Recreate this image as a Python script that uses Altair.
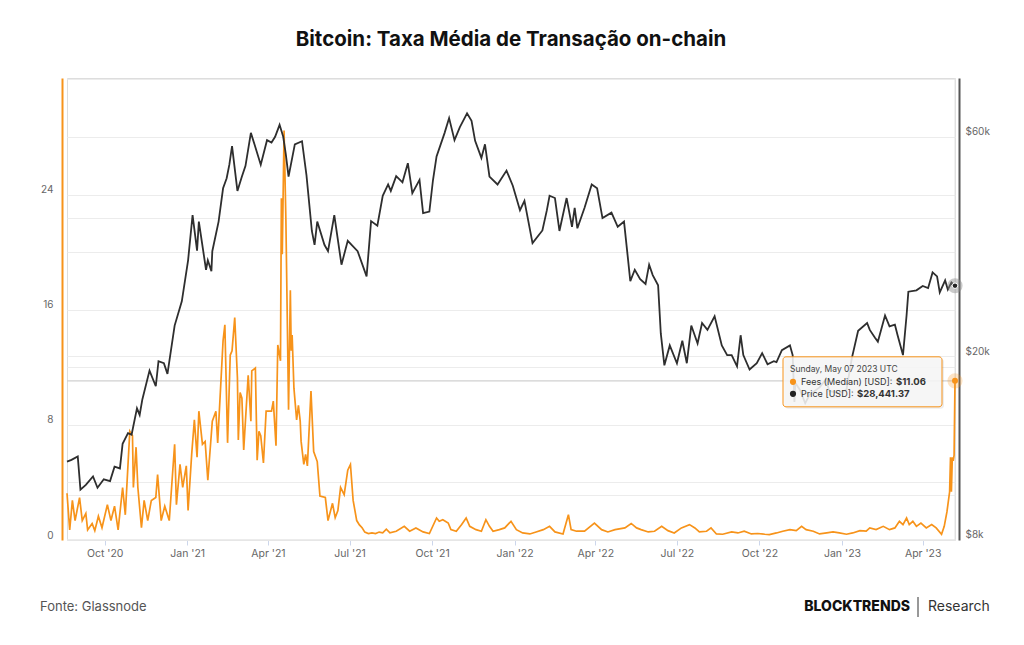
import altair as alt
import pandas as pd

# ---------------- data ----------------
# Bitcoin price (USD), (date, value)
price_2020 = [
    ("2020-08-20", 11800), ("2020-08-25", 11900), ("2020-09-01", 12100), ("2020-09-04", 10250),
    ("2020-09-10", 10500), ("2020-09-18", 10950), ("2020-09-23", 10350), ("2020-09-30", 10800),
    ("2020-10-07", 10700), ("2020-10-12", 11500), ("2020-10-18", 11400), ("2020-10-21", 12900),
    ("2020-10-27", 13600), ("2020-10-31", 13500), ("2020-11-06", 15400), ("2020-11-09", 14900),
    ("2020-11-12", 16100), ("2020-11-20", 18600), ("2020-11-27", 17200), ("2020-11-30", 19500),
    ("2020-12-06", 19300), ("2020-12-10", 18300), ("2020-12-18", 23300), ("2020-12-26", 26300),
]
price_2021 = [
    ("2021-01-02", 32300), ("2021-01-07", 40500), ("2021-01-12", 33900), ("2021-01-14", 39200),
    ("2021-01-22", 30800), ("2021-01-24", 32300), ("2021-01-28", 30600), ("2021-01-29", 33800),
    ("2021-02-05", 39200), ("2021-02-10", 46300), ("2021-02-14", 48700), ("2021-02-17", 52100),
    ("2021-02-20", 57200), ("2021-02-26", 45700), ("2021-03-03", 49100), ("2021-03-07", 51800),
    ("2021-03-13", 61100), ("2021-03-17", 57700), ("2021-03-24", 52100), ("2021-03-31", 58900),
    ("2021-04-05", 58200), ("2021-04-09", 59900), ("2021-04-14", 63600), ("2021-04-18", 60000),
    ("2021-04-21", 54800), ("2021-04-24", 49100), ("2021-05-01", 57700), ("2021-05-09", 58600),
    ("2021-05-14", 49400), ("2021-05-20", 37400), ("2021-05-23", 34900), ("2021-05-26", 39200),
    ("2021-06-03", 34900), ("2021-06-07", 33800), ("2021-06-14", 40500), ("2021-06-22", 31600),
    ("2021-06-29", 35600), ("2021-07-10", 33800), ("2021-07-20", 29800), ("2021-07-25", 39300),
    ("2021-08-01", 38400), ("2021-08-07", 44600), ("2021-08-13", 47200), ("2021-08-16", 45700),
    ("2021-08-22", 49200), ("2021-08-29", 47700), ("2021-09-04", 52500), ("2021-09-09", 45200),
    ("2021-09-17", 48300), ("2021-09-21", 40900), ("2021-09-28", 41200), ("2021-10-02", 48200),
    ("2021-10-06", 54300), ("2021-10-15", 61100), ("2021-10-20", 65800), ("2021-10-26", 58900),
    ("2021-11-01", 62900), ("2021-11-09", 67400), ("2021-11-14", 64900), ("2021-11-18", 58700),
    ("2021-11-25", 53900), ("2021-11-29", 57700), ("2021-12-04", 49100), ("2021-12-13", 47200),
    ("2021-12-23", 50600), ("2021-12-30", 46900),
]
price_2022 = [
    ("2022-01-07", 41500), ("2022-01-12", 43500), ("2022-01-21", 35200), ("2022-02-01", 37500),
    ("2022-02-06", 41500), ("2022-02-09", 44600), ("2022-02-15", 44100), ("2022-02-20", 37400),
    ("2022-02-28", 44100), ("2022-03-06", 38200), ("2022-03-09", 42000), ("2022-03-12", 37900),
    ("2022-03-20", 42000), ("2022-03-28", 47200), ("2022-04-03", 46300), ("2022-04-09", 39900),
    ("2022-04-19", 41000), ("2022-04-26", 38200), ("2022-05-03", 39200), ("2022-05-07", 33100),
    ("2022-05-10", 29100), ("2022-05-15", 30800), ("2022-05-21", 29400), ("2022-05-27", 28700),
    ("2022-05-31", 31600), ("2022-06-04", 30000), ("2022-06-10", 28500), ("2022-06-13", 22400),
    ("2022-06-17", 19100), ("2022-06-23", 21100), ("2022-07-01", 19300), ("2022-07-07", 21600),
    ("2022-07-12", 19300), ("2022-07-17", 23300), ("2022-07-24", 21300), ("2022-07-29", 23600),
    ("2022-08-04", 22800), ("2022-08-12", 24400), ("2022-08-20", 21100), ("2022-08-26", 20100),
    ("2022-08-31", 20100), ("2022-09-06", 19000), ("2022-09-10", 22200), ("2022-09-13", 20100),
    ("2022-09-20", 18700), ("2022-09-28", 19300), ("2022-10-04", 20300), ("2022-10-10", 19200),
    ("2022-10-17", 19500), ("2022-10-20", 19400), ("2022-10-26", 20600), ("2022-11-04", 21100),
    ("2022-11-07", 20100), ("2022-11-09", 15900), ("2022-11-10", 17500), ("2022-11-15", 16900),
    ("2022-11-21", 15800), ("2022-11-26", 16500), ("2022-12-07", 17100), ("2022-12-14", 17800),
    ("2022-12-18", 16800), ("2022-12-29", 16600),
]
price_2023 = [
    ("2023-01-06", 16900), ("2023-01-12", 19800), ("2023-01-19", 22700), ("2023-01-29", 23600),
    ("2023-02-01", 22800), ("2023-02-07", 21900), ("2023-02-10", 21500), ("2023-02-18", 24500),
    ("2023-02-23", 23200), ("2023-03-01", 23400), ("2023-03-04", 22200), ("2023-03-10", 20100),
    ("2023-03-14", 24500), ("2023-03-16", 27600), ("2023-03-25", 27800), ("2023-04-01", 28400),
    ("2023-04-07", 28100), ("2023-04-12", 30400), ("2023-04-17", 29800), ("2023-04-20", 27500),
    ("2023-04-26", 29200), ("2023-04-29", 27900), ("2023-05-03", 28900), ("2023-05-07", 28441.37),
]

# Median transaction fee (USD), (date, value)
fees_2020 = [
    ("2020-08-20", 3.25), ("2020-08-23", 0.7), ("2020-08-26", 2.75), ("2020-08-29", 1.35),
    ("2020-09-03", 2.95), ("2020-09-06", 1.35), ("2020-09-10", 1.85), ("2020-09-12", 0.7),
    ("2020-09-17", 1.15), ("2020-09-20", 0.65), ("2020-09-24", 1.65), ("2020-09-28", 0.85),
    ("2020-10-04", 2.45), ("2020-10-08", 1.35), ("2020-10-12", 2.35), ("2020-10-16", 0.7),
    ("2020-10-21", 3.65), ("2020-10-24", 1.75), ("2020-10-29", 7.55), ("2020-11-01", 7.25),
    ("2020-11-02", 3.65), ("2020-11-05", 6.45), ("2020-11-07", 3.65), ("2020-11-11", 0.85),
    ("2020-11-14", 2.75), ("2020-11-18", 1.35), ("2020-11-22", 2.75), ("2020-11-27", 2.95),
    ("2020-11-29", 4.55), ("2020-12-03", 1.35), ("2020-12-07", 2.35), ("2020-12-12", 1.35),
    ("2020-12-18", 6.65), ("2020-12-20", 2.45), ("2020-12-24", 5.25), ("2020-12-27", 3.65),
    ("2020-12-31", 5.15),
]
fees_2021 = [
    ("2021-01-02", 2.05), ("2021-01-06", 5.95), ("2021-01-09", 8.35), ("2021-01-12", 5.75),
    ("2021-01-14", 8.95), ("2021-01-18", 6.65), ("2021-01-21", 6.85), ("2021-01-24", 4.15),
    ("2021-01-29", 8.25), ("2021-02-02", 8.95), ("2021-02-04", 6.75), ("2021-02-10", 13.85),
    ("2021-02-12", 14.95), ("2021-02-15", 6.75), ("2021-02-18", 12.85), ("2021-02-20", 13.15),
    ("2021-02-23", 15.45), ("2021-02-26", 11.25), ("2021-02-27", 6.95), ("2021-03-01", 10.25),
    ("2021-03-03", 9.85), ("2021-03-05", 6.25), ("2021-03-10", 11.45), ("2021-03-13", 8.25),
    ("2021-03-14", 11.75), ("2021-03-18", 11.95), ("2021-03-20", 5.55), ("2021-03-22", 7.55),
    ("2021-03-24", 7.25), ("2021-03-27", 5.35), ("2021-03-30", 8.95), ("2021-04-05", 8.95),
    ("2021-04-07", 9.65), ("2021-04-10", 6.55), ("2021-04-12", 13.55), ("2021-04-15", 12.45),
    ("2021-04-16", 23.75), ("2021-04-17", 19.85), ("2021-04-19", 28.45), ("2021-04-21", 22.35),
    ("2021-04-24", 9.05), ("2021-04-26", 17.35), ("2021-04-27", 13.15), ("2021-04-28", 14.25),
    ("2021-04-30", 10.55), ("2021-05-03", 8.35), ("2021-05-05", 9.35), ("2021-05-07", 8.25),
    ("2021-05-08", 6.85), ("2021-05-11", 5.25), ("2021-05-13", 5.95), ("2021-05-15", 5.15),
    ("2021-05-19", 10.35), ("2021-05-22", 6.15), ("2021-05-26", 5.45), ("2021-05-29", 3.05),
    ("2021-06-04", 2.95), ("2021-06-07", 1.35), ("2021-06-12", 2.55), ("2021-06-15", 1.55),
    ("2021-06-18", 2.05), ("2021-06-21", 3.65), ("2021-06-25", 3.15), ("2021-06-29", 4.85),
    ("2021-07-02", 5.25), ("2021-07-05", 2.75), ("2021-07-09", 1.35), ("2021-07-12", 1.05),
    ("2021-07-15", 0.85), ("2021-07-18", 0.55), ("2021-07-22", 0.45), ("2021-07-26", 0.5),
    ("2021-07-30", 0.45), ("2021-08-03", 0.55), ("2021-08-07", 0.5), ("2021-08-11", 0.75),
    ("2021-08-15", 0.5), ("2021-08-22", 0.61), ("2021-08-31", 0.95), ("2021-09-06", 0.61),
    ("2021-09-13", 0.84), ("2021-09-21", 0.56), ("2021-09-28", 0.45), ("2021-10-06", 1.53),
    ("2021-10-09", 1.3), ("2021-10-13", 1.41), ("2021-10-19", 1.18), ("2021-10-22", 0.72),
    ("2021-10-28", 0.61), ("2021-11-03", 1.07), ("2021-11-08", 1.53), ("2021-11-12", 0.95),
    ("2021-11-19", 0.72), ("2021-11-25", 0.61), ("2021-11-30", 1.41), ("2021-12-04", 0.95),
    ("2021-12-08", 0.61), ("2021-12-15", 0.72), ("2021-12-21", 0.84), ("2021-12-28", 1.3),
]
fees_2022 = [
    ("2022-01-03", 0.72), ("2022-01-10", 0.49), ("2022-01-18", 0.42), ("2022-01-25", 0.56),
    ("2022-02-02", 0.72), ("2022-02-09", 0.95), ("2022-02-15", 0.56), ("2022-02-24", 0.42),
    ("2022-03-02", 1.76), ("2022-03-05", 0.72), ("2022-03-11", 0.61), ("2022-03-20", 0.61),
    ("2022-03-31", 1.18), ("2022-04-08", 0.72), ("2022-04-15", 0.56), ("2022-04-23", 0.72),
    ("2022-05-04", 0.84), ("2022-05-11", 1.15), ("2022-05-17", 0.84), ("2022-05-22", 0.72),
    ("2022-05-30", 0.56), ("2022-06-06", 0.61), ("2022-06-14", 0.95), ("2022-06-21", 0.65),
    ("2022-06-28", 0.49), ("2022-07-06", 0.84), ("2022-07-15", 1.07), ("2022-07-21", 0.84),
    ("2022-07-26", 0.56), ("2022-08-03", 0.61), ("2022-08-08", 0.84), ("2022-08-14", 0.42),
    ("2022-08-21", 0.4), ("2022-08-31", 0.56), ("2022-09-07", 0.49), ("2022-09-14", 0.61),
    ("2022-09-22", 0.42), ("2022-09-29", 0.45), ("2022-10-07", 0.4), ("2022-10-12", 0.38),
    ("2022-10-20", 0.49), ("2022-10-27", 0.61), ("2022-11-04", 0.72), ("2022-11-11", 0.65),
    ("2022-11-17", 0.95), ("2022-11-22", 0.72), ("2022-11-30", 0.61), ("2022-12-07", 0.42),
    ("2022-12-15", 0.49), ("2022-12-22", 0.56), ("2022-12-29", 0.49),
]
fees_2023 = [
    ("2023-01-06", 0.4), ("2023-01-13", 0.49), ("2023-01-21", 0.65), ("2023-01-28", 0.61),
    ("2023-02-01", 0.84), ("2023-02-08", 0.72), ("2023-02-16", 0.95), ("2023-02-23", 0.72),
    ("2023-03-01", 0.84), ("2023-03-06", 1.3), ("2023-03-10", 1.07), ("2023-03-14", 1.53),
    ("2023-03-17", 1.07), ("2023-03-21", 1.3), ("2023-03-25", 0.95), ("2023-03-30", 1.18),
    ("2023-04-05", 0.84), ("2023-04-11", 1.07), ("2023-04-16", 0.84), ("2023-04-22", 0.4),
    ("2023-04-25", 0.95), ("2023-04-28", 1.95), ("2023-05-01", 3.35), ("2023-05-02", 5.75),
    ("2023-05-03", 3.35), ("2023-05-04", 5.75), ("2023-05-05", 5.5), ("2023-05-06", 5.9),
    ("2023-05-07", 11.06),
]

# hovered point (tooltip)
tooltip_date = "2023-05-07"
tooltip_fee = 11.06
tooltip_price = 28441.37
tooltip_header = "Sunday, May 07 2023 UTC"
tooltip_fee_label = "Fees (Median) [USD]:"
tooltip_fee_value = "$11.06"
tooltip_price_label = "Price [USD]:"
tooltip_price_value = "$28,441.37"

# axis ticks
x_ticks = ["2020-10-01", "2021-01-01", "2021-04-01", "2021-07-01", "2021-10-01", "2022-01-01",
           "2022-04-01", "2022-07-01", "2022-10-01", "2023-01-01", "2023-04-01"]
fee_ticks = [0, 4, 8, 12, 16, 20, 24, 28, 32]
price_ticks = [8000, 10000, 20000, 40000, 60000]

title_text = "Bitcoin: Taxa Média de Transação on-chain"
source_text = "Fonte: Glassnode"
brand_bold = "BLOCKTRENDS"
brand_light = "Research"

# ---------------- build ----------------
price_df = pd.DataFrame(price_2020 + price_2021 + price_2022 + price_2023, columns=["date", "price"])
fee_df = pd.DataFrame(fees_2020 + fees_2021 + fees_2022 + fees_2023, columns=["date", "fee"])
hover_df = pd.DataFrame({"date": [tooltip_date], "fee": [tooltip_fee], "price": [tooltip_price]})

ORANGE = "#f7931a"
DARK = "#2e2e2e"
FONT = "Inter"
W, H = 888, 462


def dt(s):
    y, m, d = (int(p) for p in s.split("-"))
    return alt.DateTime(year=y, month=m, date=d, utc=True)


x_scale = alt.Scale(domain=[dt("2020-08-20"), dt("2023-05-07")], nice=False)
fee_scale = alt.Scale(domain=[0, 32.1], nice=False, zero=False)
price_scale = alt.Scale(type="log", domain=[7970, 80400], nice=False)

x_axis = alt.Axis(
    values=[dt(s) for s in x_ticks], title=None,
    labelExpr="utcFormat(datum.value, \"%b '%y\")",
    labelFont=FONT, labelFontSize=10.5, labelColor="#666", grid=False,
    domainColor="#e6e6e6", tickColor="#ccd6eb", tickSize=5, labelPadding=3,
)
fee_axis = alt.Axis(
    values=fee_ticks, orient="left", title=None,
    labelExpr="datum.value % 8 == 0 && datum.value < 32 ? datum.label : ''",
    labelFont=FONT, labelFontSize=10, labelColor="#666", ticks=False, labelPadding=9,
    labelOffset=-5, domainColor=ORANGE, domainWidth=2, offset=5,
    grid=True, gridColor="#ececec", gridWidth=1,
)
price_axis = alt.Axis(
    values=price_ticks, orient="right", title=None,
    labelExpr="datum.value == 10000 || datum.value == 40000 ? '' : '$' + (datum.value / 1000) + 'k'",
    labelFont=FONT, labelFontSize=10, labelColor="#666", ticks=False, labelPadding=6,
    labelOffset=-5, domainColor="#555", domainWidth=2, offset=4,
    grid=True, gridColor="#ececec", gridWidth=1,
)

X = alt.X("date:T", scale=x_scale, axis=x_axis)
Yfee_n = alt.Y("fee:Q", scale=fee_scale, axis=None)
Yprice_n = alt.Y("price:Q", scale=price_scale, axis=None)

# crosshairs at the hovered date
v_cross = alt.Chart(hover_df).mark_rule(color="#e3e3e3", strokeWidth=1).encode(x=X)
h_cross = alt.Chart(hover_df).mark_rule(color="#d0d0d0", strokeWidth=1.2).encode(y=Yfee_n)

fee_line = alt.Chart(fee_df).mark_line(color=ORANGE, strokeWidth=1.7).encode(
    x=X, y=alt.Y("fee:Q", scale=fee_scale, axis=fee_axis)
)
price_line = alt.Chart(price_df).mark_line(color=DARK, strokeWidth=1.8).encode(
    x=X, y=alt.Y("price:Q", scale=price_scale, axis=price_axis)
)

fee_halo = alt.Chart(hover_df).mark_circle(color=ORANGE, opacity=0.25, size=230).encode(x=X, y=Yfee_n)
fee_dot = alt.Chart(hover_df).mark_circle(color=ORANGE, opacity=1, size=36).encode(x=X, y=Yfee_n)
price_halo = alt.Chart(hover_df).mark_circle(color="#8a8a8a", opacity=0.45, size=230).encode(x=X, y=Yprice_n)
price_dot = alt.Chart(hover_df).mark_circle(color="#222", opacity=1, size=30, stroke="white", strokeWidth=1).encode(x=X, y=Yprice_n)

# tooltip box anchored on the hovered fee point
tip_shadow = alt.Chart(hover_df).mark_rect(
    color="#000", opacity=0.07, cornerRadius=3,
    xOffset=-170, x2Offset=-11, yOffset=-22, y2Offset=28,
).encode(x=X, x2="date:T", y=Yfee_n, y2="fee:Q")
tip_box = alt.Chart(hover_df).mark_rect(
    fill="#f7f7f7", fillOpacity=0.88, stroke=ORANGE, strokeWidth=1, cornerRadius=3,
    xOffset=-172, x2Offset=-13, yOffset=-24, y2Offset=26,
).encode(x=X, x2="date:T", y=Yfee_n, y2="fee:Q")


def tip_text(txt, dx, dy, size=9, bold=False, color="#333", align="left"):
    return alt.Chart(hover_df).mark_text(
        text=txt, align=align, baseline="middle", dx=dx, dy=dy, font=FONT,
        fontSize=size, fontWeight="bold" if bold else "normal", color=color,
    ).encode(x=X, y=Yfee_n)


tip_header = tip_text(tooltip_header, -165, -12, size=8.5, color="#444")
tip_fee_lbl = tip_text(tooltip_fee_label, -154, 1)
tip_fee_val = tip_text(tooltip_fee_value, -59, 1, size=9.5, bold=True)
tip_price_lbl = tip_text(tooltip_price_label, -154, 13)
tip_price_val = tip_text(tooltip_price_value, -98, 13, size=9.5, bold=True)
tip_fee_mark = alt.Chart(hover_df).mark_circle(color=ORANGE, opacity=1, size=38, xOffset=-162, yOffset=1).encode(x=X, y=Yfee_n)
tip_price_mark = alt.Chart(hover_df).mark_circle(color="#222", opacity=1, size=38, xOffset=-162, yOffset=13).encode(x=X, y=Yfee_n)

# footer (page furniture)
src = alt.Chart(hover_df).mark_text(
    text=source_text, align="left", baseline="middle", font=FONT, fontSize=13, color="#555"
).encode(x=alt.value(-27), y=alt.value(529))
brand1 = alt.Chart(hover_df).mark_text(
    text=brand_bold, align="right", baseline="middle", font=FONT, fontSize=14, fontWeight=800, color="#111"
).encode(x=alt.value(843), y=alt.value(529))
brand_sep = alt.Chart(hover_df).mark_rule(color="#333", strokeWidth=1).encode(
    x=alt.value(851), y=alt.value(519), y2=alt.value(539)
)
brand2 = alt.Chart(hover_df).mark_text(
    text=brand_light, align="left", baseline="middle", font=FONT, fontSize=14, color="#333"
).encode(x=alt.value(861), y=alt.value(529))

chart = alt.layer(
    v_cross, h_cross, fee_line, price_line,
    fee_halo, fee_dot, price_halo, price_dot,
    tip_shadow, tip_box, tip_header, tip_fee_mark, tip_fee_lbl, tip_fee_val,
    tip_price_mark, tip_price_lbl, tip_price_val,
    src, brand1, brand_sep, brand2,
).resolve_scale(y="independent").properties(
    width=W, height=H,
    title=alt.TitleParams(
        text=title_text, font=FONT, fontSize=20.5, fontWeight="bold", color="#111",
        anchor="middle", frame="group", baseline="alphabetic", offset=11,
    ),
    autosize=alt.AutoSizeParams(type="none"),
    padding={"left": 67, "top": 78, "right": 69, "bottom": 105},
).configure_view(stroke=None).configure(background="white")

chart.save("out.html", embed_options={"renderer": "svg", "actions": False})
